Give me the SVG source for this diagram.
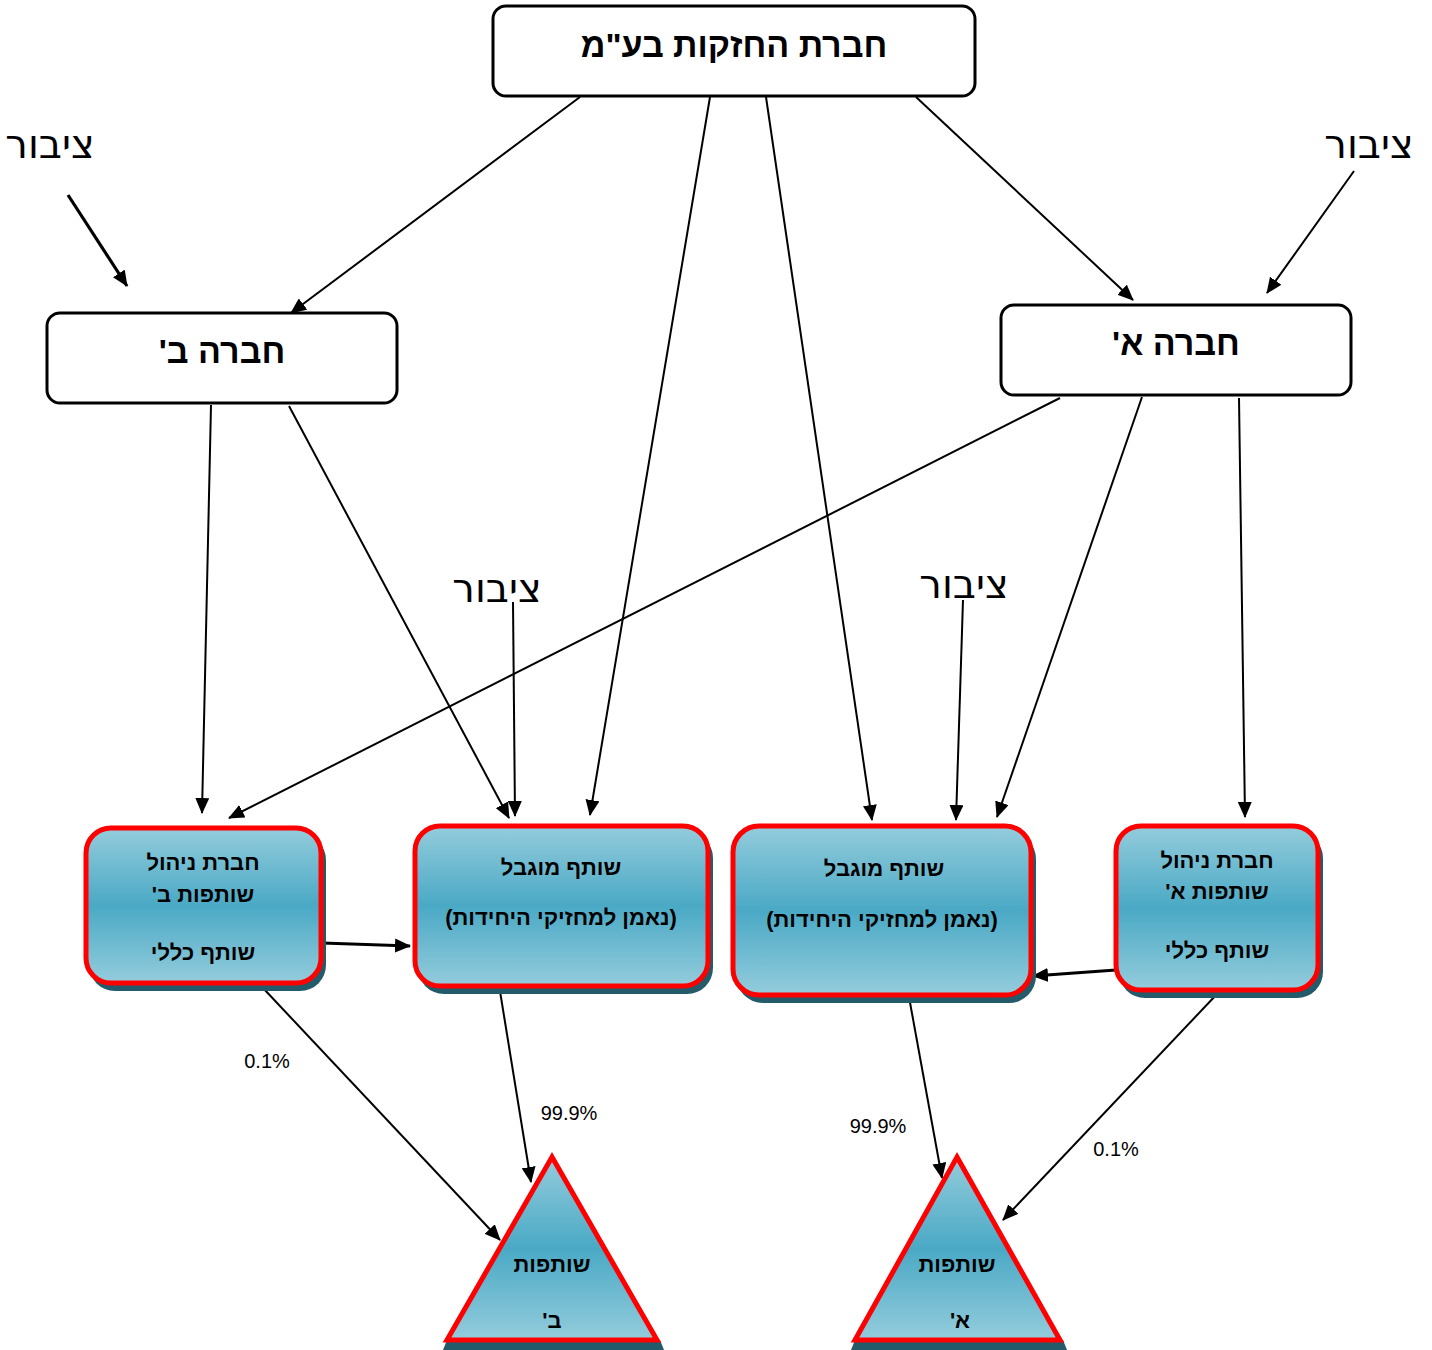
<svg xmlns="http://www.w3.org/2000/svg" width="1432" height="1350" viewBox="0 0 1432 1350">
<style>
.box{fill:#fff;stroke:#000;stroke-width:3}
.node{fill:url(#g);stroke:#ff0000;stroke-width:5}
.sh{fill:#235b6a}
.t{font-family:"Liberation Sans",Arial,sans-serif;font-weight:bold;fill:#000;text-anchor:middle;direction:rtl}
.big{font-size:34px}
.nt{font-size:22px}
.pub{font-family:"DejaVu Sans","Noto Sans",sans-serif;font-size:40px;fill:#000;text-anchor:middle;direction:rtl}
.pct{font-family:"Liberation Sans",Arial,sans-serif;font-size:20px;fill:#000;text-anchor:middle}
.c{stroke:#000;stroke-width:2;fill:none;marker-end:url(#a)}
.ct{stroke:#000;stroke-width:3.2;fill:none;marker-end:url(#a)}
</style>
<defs>
<linearGradient id="g" x1="0" y1="0" x2="0" y2="1">
<stop offset="0" stop-color="#94ccdc"/>
<stop offset="0.5" stop-color="#4aa9c5"/>
<stop offset="1" stop-color="#94ccdc"/>
</linearGradient>
<marker id="a" markerUnits="userSpaceOnUse" markerWidth="16" markerHeight="14" refX="15" refY="7" orient="auto">
<path d="M0,0 L16,7 L0,14 z" fill="#000"/>
</marker>
</defs>
<rect width="1432" height="1350" fill="#fff"/>

<g id="connectors">
<line class="ct" x1="68" y1="195" x2="127" y2="286"/>
<line class="c" x1="1354" y1="171" x2="1267" y2="293"/>
<line class="c" x1="580" y1="97" x2="291" y2="313"/>
<line class="c" x1="916" y1="97" x2="1133" y2="300"/>
<line class="c" x1="710" y1="97" x2="590" y2="815"/>
<line class="c" x1="766" y1="97" x2="872" y2="820"/>
<line class="c" x1="211" y1="405" x2="202" y2="813"/>
<line class="c" x1="289" y1="406" x2="509" y2="818"/>
<line class="c" x1="1060" y1="398" x2="229" y2="818"/>
<line class="c" x1="1142" y1="397" x2="997" y2="817"/>
<line class="c" x1="1239" y1="398" x2="1245" y2="817"/>
<line class="c" x1="513" y1="602" x2="515" y2="816"/>
<line class="c" x1="963" y1="600" x2="956" y2="820"/>
<line class="ct" x1="322" y1="943" x2="410" y2="946"/>
<line class="ct" x1="1116" y1="970" x2="1033" y2="976"/>
<line class="c" x1="263" y1="988" x2="500" y2="1240"/>
<line class="c" x1="499" y1="985" x2="531" y2="1182"/>
<line class="c" x1="909" y1="997" x2="942" y2="1178"/>
<line class="c" x1="1218" y1="993" x2="1003" y2="1220"/>
<text class="pct" x="267" y="1068">0.1%</text>
<text class="pct" x="569" y="1120">99.9%</text>
<text class="pct" x="878" y="1133">99.9%</text>
<text class="pct" x="1116" y="1156">0.1%</text>
</g>

<g id="holding">
<rect class="box" x="493" y="6" width="482" height="90" rx="13"/>
<text class="t big" x="734" y="57">חברת החזקות בע"מ</text>
</g>
<g id="company-b">
<rect class="box" x="47" y="313" width="350" height="90" rx="13"/>
<text class="t big" x="222" y="363">חברה ב'</text>
</g>
<g id="company-a">
<rect class="box" x="1001" y="305" width="350" height="90" rx="13"/>
<text class="t big" x="1176" y="355">חברה א'</text>
</g>

<g id="public-1"><text class="pub" x="50" y="158">ציבור</text></g>
<g id="public-2"><text class="pub" x="1369" y="158">ציבור</text></g>
<g id="public-3"><text class="pub" x="497" y="602">ציבור</text></g>
<g id="public-4"><text class="pub" x="964" y="598">ציבור</text></g>

<g id="gp-b">
<rect class="sh" x="89" y="834" width="237" height="157" rx="26"/>
<rect class="node" x="86" y="828" width="235" height="155" rx="25"/>
<text class="t nt" x="203" y="870">חברת ניהול</text>
<text class="t nt" x="203" y="902">שותפות ב'</text>
<text class="t nt" x="203" y="960">שותף כללי</text>
</g>
<g id="lp-b">
<rect class="sh" x="418" y="832" width="295" height="162" rx="26"/>
<rect class="node" x="415" y="826" width="293" height="160" rx="25"/>
<text class="t nt" x="561" y="875">שותף מוגבל</text>
<text class="t nt" x="561" y="925">(נאמן למחזיקי היחידות)</text>
</g>
<g id="lp-a">
<rect class="sh" x="736" y="832" width="300" height="171" rx="27"/>
<rect class="node" x="733" y="826" width="298" height="169" rx="26"/>
<text class="t nt" x="884" y="876">שותף מוגבל</text>
<text class="t nt" x="882" y="927">(נאמן למחזיקי היחידות)</text>
</g>
<g id="gp-a">
<rect class="sh" x="1119" y="832" width="204" height="166" rx="26"/>
<rect class="node" x="1116" y="826" width="202" height="164" rx="25"/>
<text class="t nt" x="1217" y="868">חברת ניהול</text>
<text class="t nt" x="1217" y="899">שותפות א'</text>
<text class="t nt" x="1217" y="958">שותף כללי</text>
</g>

<g id="partnership-b">
<polygon class="sh" points="447,1340 660,1340 664,1350 443,1350"/>
<polygon class="node" points="552,1157 657,1340 447,1340"/>
<text class="t nt" x="552" y="1272">שותפות</text>
<text class="t nt" x="552" y="1328">ב'</text>
</g>
<g id="partnership-a">
<polygon class="sh" points="855,1340 1063,1340 1067,1350 851,1350"/>
<polygon class="node" points="957,1157 1060,1340 855,1340"/>
<text class="t nt" x="957" y="1272">שותפות</text>
<text class="t nt" x="960" y="1328">א'</text>
</g>
</svg>
